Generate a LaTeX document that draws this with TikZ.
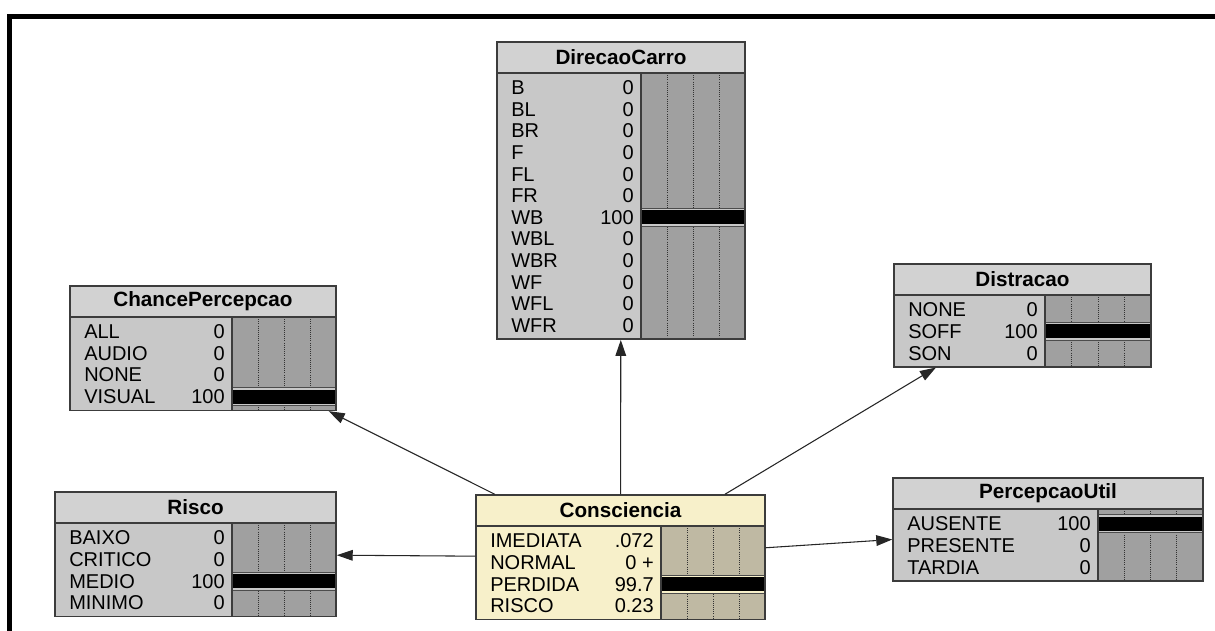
\documentclass[tikz,border=0pt]{standalone}
\usepackage{fontspec}
\setmainfont{Liberation Sans}
\usepackage{xcolor}
\definecolor{grayhead}{HTML}{D2D2D2}
\definecolor{graybody}{HTML}{C8C8C8}
\definecolor{graybar}{HTML}{A0A0A0}
\definecolor{creamhead}{HTML}{F7F0CA}
\definecolor{creambody}{HTML}{F7F0CA}
\definecolor{creambar}{HTML}{BFB9A3}
\definecolor{edgegray}{HTML}{3C3C3C}
\usetikzlibrary{arrows.meta,fit}

% node box: [scheme]{name}{left}{top}{divider}{right}{rows}{title}{state/value/percent}
\newcommand{\netnode}[9][gray]{%
  \pgfmathsetmacro{\nnL}{#3}
  \pgfmathsetmacro{\nnT}{#4}
  \pgfmathsetmacro{\nnD}{#5}
  \pgfmathsetmacro{\nnR}{#6}
  \pgfmathsetmacro{\nnH}{#4+31}
  \pgfmathsetmacro{\nnB}{#4+38+#7*21.6}
  \fill[#1head] (\nnL,\nnT) rectangle (\nnR,\nnH);
  \fill[#1body] (\nnL,\nnH) rectangle (\nnD,\nnB);
  \fill[#1bar] (\nnD,\nnH) rectangle (\nnR,\nnB);
  \foreach \q in {1,2,3}
    \draw[gridline] ({\nnD+\q*(\nnR-\nnD)/4},\nnH) -- ({\nnD+\q*(\nnR-\nnD)/4},\nnB);
  \foreach \lab/\val/\pct [count=\i] in {#9} {
    \pgfmathsetmacro{\yc}{\nnH+4+(\i-0.5)*21.6}
    \ifdim\pct pt>1pt
      \fill[#1body] (\nnD,\yc-9) rectangle (\nnR,\yc+9);
      \draw[barline] (\nnD,\yc-9) -- (\nnR,\yc-9) (\nnD,\yc+9) -- (\nnR,\yc+9);
      \fill[black] (\nnD,\yc-7) rectangle ({\nnD+\pct/100*(\nnR-\nnD)},\yc+7);
    \fi
    \node[netstate, anchor=base west] (#2-l\i) at (\nnL+14,\yc+7) {\lab};
    \node[netstate, anchor=base east] (#2-v\i) at (\nnD-7,\yc+7) {\val};
  }
  \draw[netedge] (\nnL,\nnH) -- (\nnR,\nnH) (\nnD,\nnH) -- (\nnD,\nnB);
  \node[nettitle] (#2-title) at ({(\nnL+\nnR)/2},{(\nnT+\nnH)/2}) {#8};
  \node[netbox, fit={(\nnL,\nnT) (\nnR,\nnB)}] (#2) {};
}

\begin{document}
\begin{tikzpicture}[
    x=0.75pt, y=-0.75pt,
    netbox/.style={draw=edgegray, line width=1.1pt, inner sep=0pt},
    netedge/.style={draw=edgegray, line width=1.1pt},
    gridline/.style={black!80, densely dotted, line width=0.6pt},
    barline/.style={black!70, line width=0.6pt},
    netstate/.style={inner sep=0pt, font=\fontsize{15}{17}\selectfont},
    nettitle/.style={inner sep=0pt, font=\bfseries\fontsize{15.5}{17}\selectfont},
    link/.style={-{Triangle[length=12pt,width=8pt]}, line width=0.8pt, black!85},
    frame/.style={line width=3.75pt, line join=miter}
]
  \useasboundingbox (0,0) rectangle (1215,631);
  \draw[frame] (9,631) -- (9,16.5) -- (1215,16.5);

  % nodes of the network
  \netnode{dir}{497}{42}{641}{745}{12}{DirecaoCarro}{B/0/0, BL/0/0, BR/0/0, F/0/0, FL/0/0, FR/0/0,
    WB/100/100, WBL/0/0, WBR/0/0, WF/0/0, WFL/0/0, WFR/0/0}
  \netnode{chance}{70}{286}{232}{336}{4}{ChancePercepcao}{ALL/0/0, AUDIO/0/0, NONE/0/0, VISUAL/100/100}
  \netnode{distr}{894}{264}{1045}{1151}{3}{Distracao}{NONE/0/0, SOFF/100/100, SON/0/0}
  \netnode{risco}{55}{492}{232}{336}{4}{Risco}{BAIXO/0/0, CRITICO/0/0, MEDIO/100/100, MINIMO/0/0}
  \netnode{percep}{893}{478}{1098}{1203}{3}{PercepcaoUtil}{AUSENTE/100/100, PRESENTE/0/0, TARDIA/0/0}
  \netnode[cream]{cons}{476}{495}{661}{765}{4}{Consciencia}{IMEDIATA/.072/0.072, NORMAL/0 +/0,
    PERDIDA/99.7/99.7, RISCO/0.23/0.23}

  % links
  \draw[link] (cons) -- (dir);
  \draw[link] (cons) -- (chance);
  \draw[link] (cons) -- (distr);
  \draw[link] (cons) -- (risco);
  \draw[link] (cons) -- (percep);
\end{tikzpicture}
\end{document}
